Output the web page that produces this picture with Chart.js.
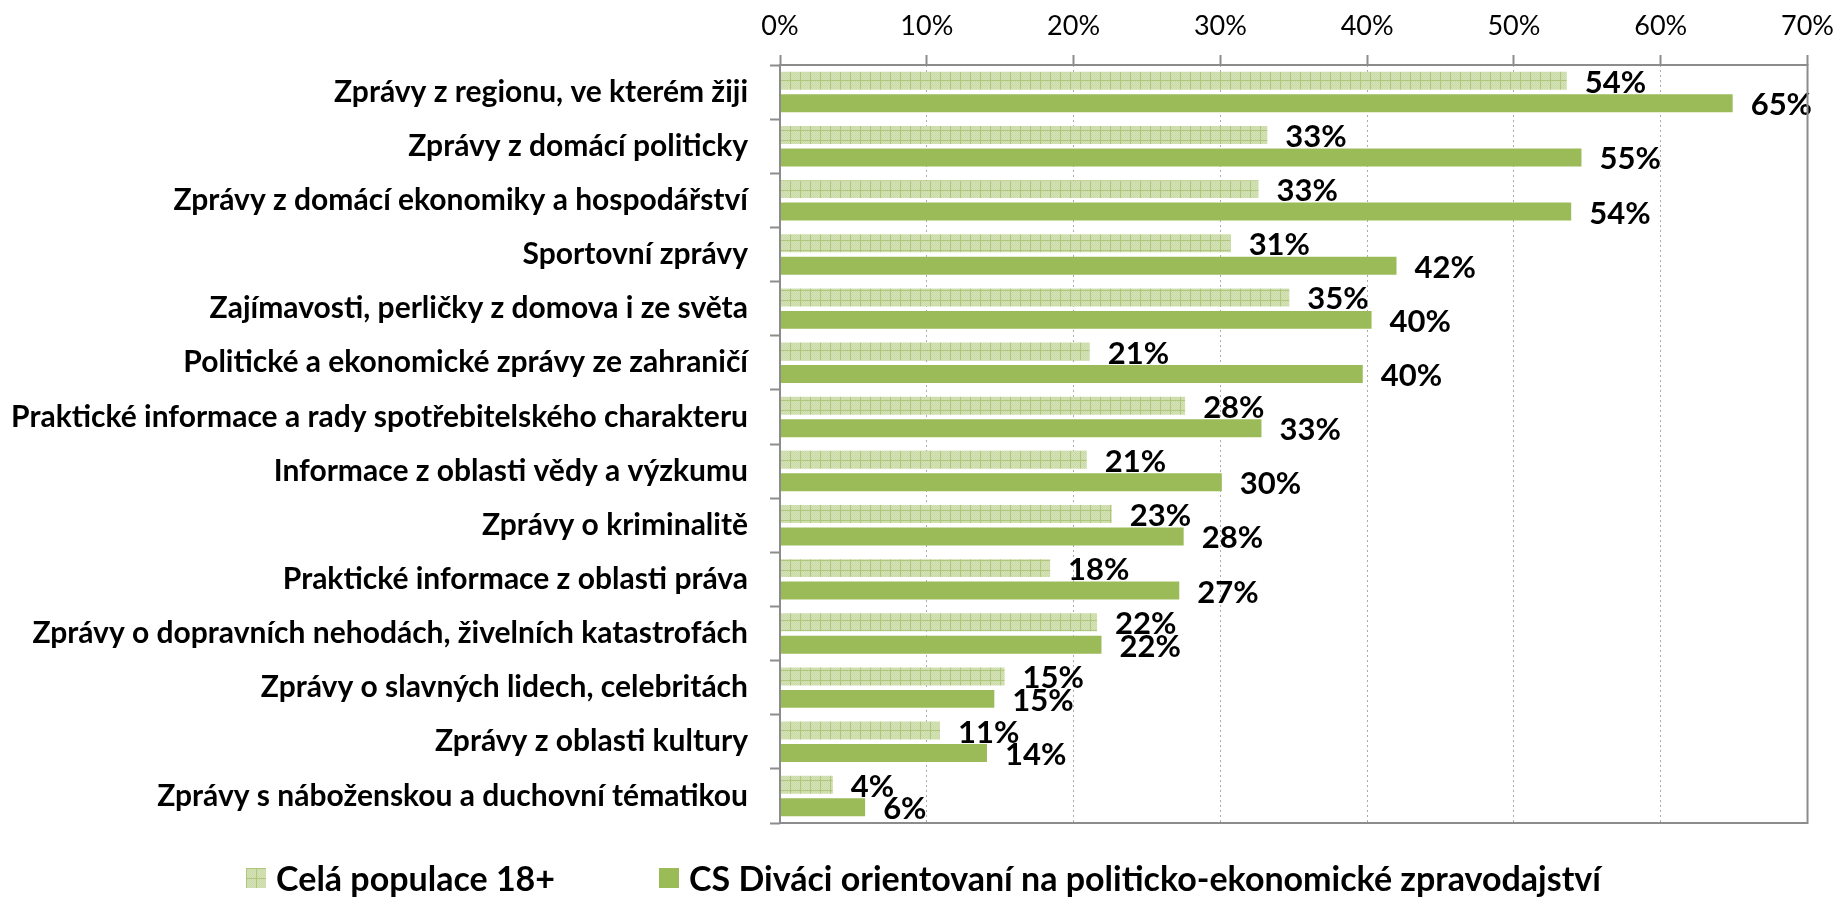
<!DOCTYPE html>
<html>
<head>
<meta charset="utf-8">
<script src="https://cdn.jsdelivr.net/npm/chart.js@4.4.1/dist/chart.umd.min.js"></script>
<style>
  html, body { margin: 0; padding: 0; background: #fff; }
  #wrap { position: relative; width: 1847px; height: 899px; }
  #legend {
    position: absolute; left: 0; right: 0; top: 857px;
    display: flex; justify-content: center; align-items: center;
    font-family: Lato, sans-serif; font-weight: bold; font-size: 34px; color: #000;
  }
  .item { display: flex; align-items: center; margin: 0 52px; }
  .box { width: 20px; height: 20px; margin-right: 10px; }
</style>
</head>
<body>
<div id="wrap">
  <canvas id="chart" width="1847" height="899"></canvas>
  <div id="legend"></div>
</div>
<script>
const categories = [
  "Zprávy z regionu, ve kterém žiji",
  "Zprávy z domácí politicky",
  "Zprávy z domácí ekonomiky a hospodářství",
  "Sportovní zprávy",
  "Zajímavosti, perličky z domova i ze světa",
  "Politické a ekonomické zprávy ze zahraničí",
  "Praktické informace a rady spotřebitelského charakteru",
  "Informace z oblasti vědy a výzkumu",
  "Zprávy o kriminalitě",
  "Praktické informace z oblasti práva",
  "Zprávy o dopravních nehodách, živelních katastrofách",
  "Zprávy o slavných lidech, celebritách",
  "Zprávy z oblasti kultury",
  "Zprávy s náboženskou a duchovní tématikou"
];
const seriesNames = ["Celá populace 18+", "CS Diváci orientovaní na politicko-ekonomické zpravodajství"];
const populace = [53.6, 33.2, 32.6, 30.7, 34.7, 21.1, 27.6, 20.9, 22.6, 18.4, 21.6, 15.3, 10.9, 3.6];
const divaci   = [64.9, 54.6, 53.9, 42.0, 40.3, 39.7, 32.8, 30.1, 27.5, 27.2, 21.9, 14.6, 14.1, 5.8];
const axisMax = 70;
const axisStep = 10;

// checkered fill like the Excel pattern
const tile = document.createElement('canvas');
tile.width = 10; tile.height = 10;
const tc = tile.getContext('2d');
tc.fillStyle = '#d6e3ba';
tc.fillRect(0, 0, 10, 10);
tc.fillStyle = '#c9daa5';
for (let i = 0; i < 10; i++) for (let j = 0; j < 10; j++) if ((i + j) % 2 === 0) tc.fillRect(i, j, 1, 1);
tc.fillStyle = '#afc77c';
tc.fillRect(0, 0, 10, 1);
tc.fillRect(0, 0, 1, 10);
const ctx = document.getElementById('chart').getContext('2d');
const checker = ctx.createPattern(tile, 'repeat');
const green = '#9bbb59';

const valueLabels = {
  id: 'valueLabels',
  afterDatasetsDraw(chart) {
    const c = chart.ctx;
    c.save();
    c.font = 'bold 31px Lato';
    c.fillStyle = '#000';
    c.textBaseline = 'middle';
    chart.data.datasets.forEach((ds, i) => {
      chart.getDatasetMeta(i).data.forEach((bar, j) => {
        c.fillText(Math.round(ds.data[j]) + '%', bar.x + 18, bar.y + 2);
      });
    });
    c.restore();
  }
};

const frame = {
  id: 'frame',
  afterDraw(chart) {
    const {left, top, right, bottom} = chart.chartArea;
    const c = chart.ctx;
    c.save();
    c.strokeStyle = '#8c8c8c';
    c.lineWidth = 2;
    c.strokeRect(left, top, right - left, bottom - top);
    c.restore();
  }
};

new Chart(ctx, {
  type: 'bar',
  data: {
    labels: categories,
    datasets: [
      { label: seriesNames[0], data: populace, backgroundColor: checker },
      { label: seriesNames[1], data: divaci, backgroundColor: green }
    ]
  },
  options: {
    indexAxis: 'y',
    responsive: false,
    animation: false,
    categoryPercentage: 0.83,
    barPercentage: 0.8,
    layout: { padding: { right: 30, bottom: 76 } },
    plugins: { legend: { display: false }, tooltip: { enabled: false } },
    scales: {
      x: {
        position: 'top',
        min: 0, max: axisMax,
        ticks: { stepSize: axisStep, callback: v => v + '%', font: { family: 'Lato', size: 27 }, color: '#000', padding: 13 },
        grid: { color: '#ababab', lineWidth: 1, tickLength: 10, tickColor: '#8c8c8c', tickWidth: 2, tickBorderDash: [] },
        border: { display: false, dash: [2, 3] },
        afterFit(s) { s.height = 65; }
      },
      y: {
        ticks: { font: { family: 'Lato', size: 30, weight: 'bold' }, color: '#000', padding: 22, autoSkip: false },
        grid: { drawOnChartArea: false, tickLength: 10, tickColor: '#8c8c8c', tickWidth: 2, offset: true },
        border: { display: false },
        afterFit(s) { s.width = 780; }
      }
    }
  },
  plugins: [valueLabels, frame]
});

const legend = document.getElementById('legend');
[checker, green].forEach((fill, i) => {
  const item = document.createElement('div');
  item.className = 'item';
  const box = document.createElement('div');
  box.className = 'box';
  box.style.background = i === 0 ? '#d6e3ba url(' + tile.toDataURL() + ')' : green;
  const txt = document.createElement('span');
  txt.textContent = seriesNames[i];
  item.appendChild(box);
  item.appendChild(txt);
  legend.appendChild(item);
});
</script>
</body>
</html>
